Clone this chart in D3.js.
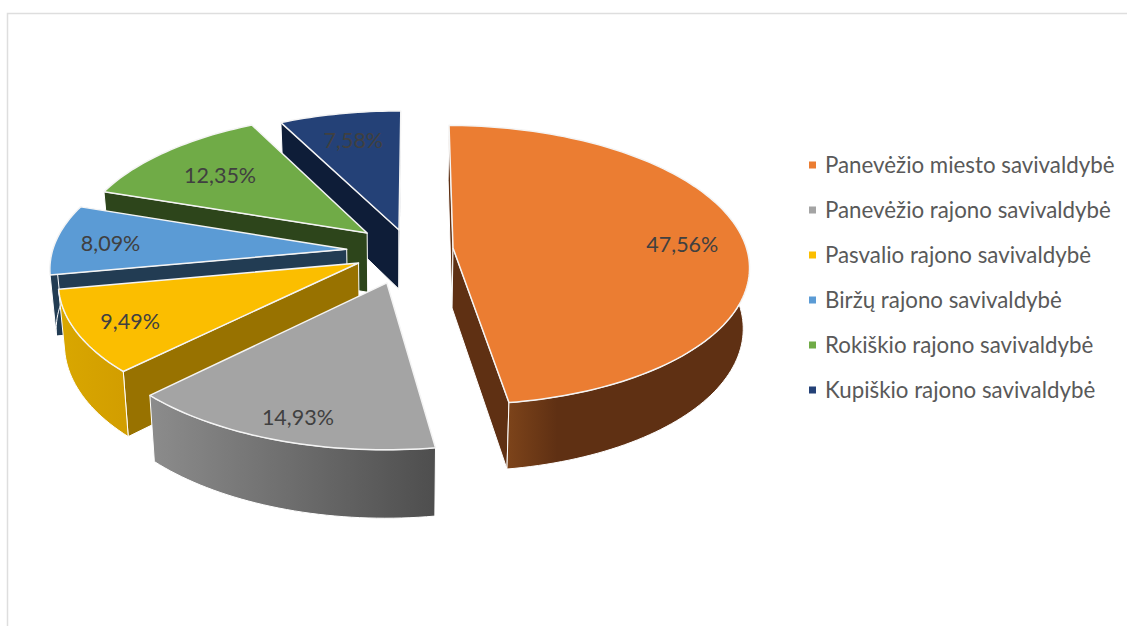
<!DOCTYPE html>
<html>
<head>
<meta charset="utf-8">
<script src="https://cdn.jsdelivr.net/npm/d3@7"></script>
<style>
  body { margin: 0; background: #fff; }
  text { font-family: Lato, "Open Sans", sans-serif; }
</style>
</head>
<body>
<div class="chart"></div>
<script>
// chart data
var categories = [
  "Panevėžio miesto savivaldybė",
  "Panevėžio rajono savivaldybė",
  "Pasvalio rajono savivaldybė",
  "Biržų rajono savivaldybė",
  "Rokiškio rajono savivaldybė",
  "Kupiškio rajono savivaldybė"
];
var values = [47.56, 14.93, 9.49, 8.09, 12.35, 7.58];
var labels = ["47,56%", "14,93%", "9,49%", "8,09%", "12,35%", "7,58%"];

// styling per slice
var topColors = ["#eb7d32", "#a4a4a4", "#fbbe00", "#5b9bd5", "#70ab47", "#244177"];
var edgeColors = ["#5f3013", "#6e6e6e", "#987200", "#223c53", "#2d451b", "#0e1d38"];
var wallStops = [
  [[0.2, "#7c431a"], [0.36, "#5f3013"], [1, "#5f3013"]],
  [[0, "#8c8c8c"], [1, "#4e4e4e"]],
  [[0, "#d9a700"], [1, "#d29e00"]],
  [[0, "#223c53"], [1, "#223c53"]],
  [[0, "#2d451b"], [1, "#2d451b"]],
  [[0, "#0e1d38"], [1, "#0e1d38"]]
];

// explosion of every slice and label placement, in pie radius units
var explodeX = [0.184, -0.04, -0.136, -0.178, -0.11, 0];
var explodeY = [-0.014, 0.232, 0.093, -0.005, -0.125, -0.1475];
var labelRadius = [0.785, 0.865, 0.825, 0.81, 0.705, 0.75];
var labelTurn = [2, -1, -1, -1, -1, 0];

var svgWidth = 1127;
var svgHeight = 626;

// perspective of the pie plane
var centerX = 399;
var centerY = 250;
var radiusX = 294;
var radiusY = 138;
var persp = 0.121;
var bottomShrink = 0.982;
var firstAngle = 0.4;

var svg = d3.select(".chart")
  .append("svg")
  .attr("width", svgWidth)
  .attr("height", svgHeight)
  .style("display", "block");

// chart frame
svg.append("path")
  .attr("d", "M7.5,626V13.5H1127")
  .attr("fill", "none")
  .attr("stroke", "#dedede")
  .attr("stroke-width", 1.5);

var defs = svg.append("defs");

// plane point -> screen point, z=0 is the top face and z=1 the bottom face
function project(x, y, z) {
  var s = 1 / (1 - persp * y);
  var px = centerX + radiusX * x * s;
  var py = centerY + radiusY * y * s;
  if (z) {
    px = centerX + (px - centerX) * bottomShrink;
    py = py + 12 + 48 * s;
  }
  return [px, py];
}

var pie = d3.pie()
  .sort(null)
  .startAngle(firstAngle * Math.PI / 180)
  .endAngle((360 + firstAngle) * Math.PI / 180);

var line = d3.line();
var slices = pie(values);

function rimAngles(d) {
  var n = Math.ceil((d.endAngle - d.startAngle) * 40);
  return d3.range(n + 1).map(function(k) {
    return d.startAngle + (d.endAngle - d.startAngle) * k / n;
  });
}

function rimPoints(angles, i, z) {
  return angles.map(function(a) {
    return project(explodeX[i] + Math.sin(a), explodeY[i] - Math.cos(a), z);
  });
}

var sliceGroups = svg.selectAll("g.slice")
  .data(slices)
  .enter()
  .append("g")
  .attr("class", "slice");

sliceGroups.each(function(d, i) {
  var g = d3.select(this);
  var angles = rimAngles(d);
  var top = rimPoints(angles, i, 0);
  var bottom = rimPoints(angles, i, 1);
  var apexTop = project(explodeX[i], explodeY[i], 0);
  var apexBottom = project(explodeX[i], explodeY[i], 1);
  var topFace = [apexTop].concat(top);
  var xExtent = d3.extent(top, function(p) { return p[0]; });

  var grad = defs.append("linearGradient")
    .attr("id", "wall" + i)
    .attr("gradientUnits", "userSpaceOnUse")
    .attr("x1", xExtent[0])
    .attr("x2", xExtent[1])
    .attr("y1", 0)
    .attr("y2", 0);
  grad.selectAll("stop")
    .data(wallStops[i])
    .enter()
    .append("stop")
    .attr("offset", function(s) { return s[0]; })
    .attr("stop-color", function(s) { return s[1]; });

  // cut faces: a face shows only if just below its top edge we leave the top face
  [[top[0], bottom[0]], [top[top.length - 1], bottom[bottom.length - 1]]].forEach(function(e) {
    var below = [(apexTop[0] + e[0][0]) / 2, (apexTop[1] + e[0][1]) / 2 + 3];
    if (d3.polygonContains(topFace, below)) return;
    g.append("path")
      .attr("d", line([apexTop, e[0], e[1], apexBottom]) + "Z")
      .attr("fill", edgeColors[i])
      .attr("stroke", "#fff")
      .attr("stroke-width", 1);
  });

  // outer wall, only the part of the rim that faces the viewer
  var front = angles.filter(function(a) { return Math.cos(a) < 0.05; });
  if (front.length > 1) {
    g.append("path")
      .attr("d", line(rimPoints(front, i, 0).concat(rimPoints(front, i, 1).reverse())) + "Z")
      .attr("fill", "url(#wall" + i + ")")
      .attr("stroke", "#fff")
      .attr("stroke-width", 1);
  }

  // top face
  g.append("path")
    .attr("d", line(topFace) + "Z")
    .attr("fill", topColors[i])
    .attr("stroke", "#f4f4f4")
    .attr("stroke-width", 1.5)
    .attr("stroke-linejoin", "round");
});

// back slices are painted first
sliceGroups.sort(function(a, b) { return b.index - a.index; });

// data labels
svg.selectAll("text.label")
  .data(slices)
  .enter()
  .append("text")
  .attr("class", "label")
  .attr("transform", function(d, i) {
    var a = (d.startAngle + d.endAngle) / 2 + labelTurn[i] * Math.PI / 180;
    var p = project(explodeX[i] + labelRadius[i] * Math.sin(a),
      explodeY[i] - labelRadius[i] * Math.cos(a), 0);
    return "translate(" + p[0] + "," + p[1] + ")";
  })
  .attr("dy", "0.35em")
  .attr("text-anchor", "middle")
  .attr("font-size", 21.5)
  .attr("fill", "#404040")
  .text(function(d, i) { return labels[i]; });

// legend
var legendY = d3.scalePoint()
  .domain(categories)
  .range([165, 390]);

var legend = svg.selectAll("g.legend")
  .data(categories)
  .enter()
  .append("g")
  .attr("class", "legend")
  .attr("transform", function(d) { return "translate(809," + legendY(d) + ")"; });

legend.append("rect")
  .attr("y", -3.5)
  .attr("width", 7)
  .attr("height", 7)
  .attr("fill", function(d, i) { return topColors[i]; });

legend.append("text")
  .attr("x", 16)
  .attr("dy", "0.35em")
  .attr("font-size", 22.3)
  .attr("fill", "#595959")
  .text(function(d) { return d; });
</script>
</body>
</html>
